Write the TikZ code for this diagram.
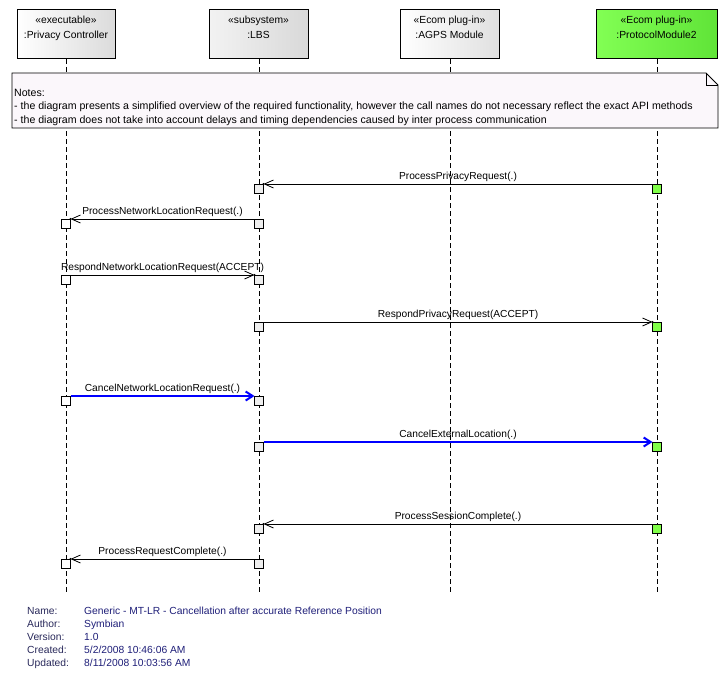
\documentclass[tikz,border=0pt]{standalone}
\usepackage{fontspec}
\setmainfont{Liberation Sans}
\usetikzlibrary{arrows.meta}
\definecolor{grn}{RGB}{128,255,72}
\definecolor{grnl}{RGB}{130,255,84}
\definecolor{grnd}{RGB}{96,228,56}
\definecolor{actgray}{RGB}{238,238,238}
\definecolor{notefill}{RGB}{251,247,251}
\definecolor{footlbl}{RGB}{40,40,90}
\definecolor{footval}{RGB}{30,30,120}
\definecolor{msgblue}{RGB}{0,0,255}
\begin{document}
\begin{tikzpicture}[x=1pt,y=-1pt,
  head/.style={draw, line width=1pt, minimum width=#1, minimum height=49pt, inner sep=0pt, outer sep=0pt},
  htxt/.style={font=\fontsize{10.3}{12}\selectfont, inner sep=0pt, anchor=base},
  act/.style={draw, line width=0.8pt, minimum size=9pt, inner sep=0pt, outer sep=0pt, anchor=north},
  lifeline/.style={line width=0.8pt, dash pattern=on 5pt off 3pt},
  msg/.style={line width=0.8pt, -{Straight Barb[length=9pt,width=8pt]}},
  bmsg/.style={draw=msgblue, line width=2pt, -{Straight Barb[length=7pt,width=9pt]}},
  lbl/.style={font=\fontsize{10.2}{12}\selectfont, inner sep=0pt, above=1.5pt},
  notetxt/.style={font=\fontsize{10.6}{12}\selectfont, inner sep=0pt, anchor=base west},
  footl/.style={font=\fontsize{10.3}{12}\selectfont, inner sep=0pt, anchor=base west, text=footlbl},
  footv/.style={font=\fontsize{10.3}{12}\selectfont, inner sep=0pt, anchor=base west, text=footval}
]
\useasboundingbox (0,0) rectangle (728,685);

% headers
\node[head=98, left color=white, right color=black!14] (pc) at (66,34.5) {};
\node[head=99, left color=black!5, right color=black!15] (lbs) at (258.5,34.5) {};
\node[head=99, left color=white, right color=black!12] (agps) at (449.5,34.5) {};
\node[head=121, left color=grnl, right color=grnd] (pm) at (656.5,34.5) {};
\node[htxt] (pcs) at (66,23.5) {«executable»};
\node[htxt] (pcn) at (66,39) {:Privacy Controller};
\node[htxt] (lbss) at (258.5,23.5) {«subsystem»};
\node[htxt] (lbsn) at (258.5,39) {:LBS};
\node[htxt] (agpss) at (449.5,23.5) {«Ecom plug-in»};
\node[htxt] (agpsn) at (449.5,39) {:AGPS Module};
\node[htxt] (pms) at (656.5,23.5) {«Ecom plug-in»};
\node[htxt] (pmn) at (656.5,39) {:ProtocolModule2};

% lifelines
\coordinate (pcE) at (66,593);
\coordinate (lbsE) at (259,593);
\coordinate (agpsE) at (450,593);
\coordinate (pmE) at (657,593);
\draw[lifeline] (66,59) -- (pcE);
\draw[lifeline] (259,59) -- (lbsE);
\draw[lifeline] (450,59) -- (agpsE);
\draw[lifeline] (657,59) -- (pmE);

% note
\draw[fill=notefill, line width=0.8pt] (12,73) -- (706,73) -- (718,85) -- (718,128) -- (12,128) -- cycle;
\draw[line width=0.6pt] (706,73) -- (706,85) -- (718,85);
\node[notetxt] (n0) at (14,96.5) {Notes:};
\node[notetxt] (n1) at (14,110) {- the diagram presents a simplified overview of the required functionality, however the call names do not necessary reflect the exact API methods};
\node[notetxt] (n2) at (14,123.5) {- the diagram does not take into account delays and timing dependencies caused by inter process communication};

% activation boxes
\node[act, fill=grn] (p1) at (657,184) {};
\node[act, fill=actgray] (l1) at (259,184) {};
\node[act, fill=actgray] (l2) at (259,219) {};
\node[act, fill=white] (c2) at (66,219) {};
\node[act, fill=white] (c3) at (66,275) {};
\node[act, fill=actgray] (l3) at (259,275) {};
\node[act, fill=actgray] (l4) at (259,322) {};
\node[act, fill=grn] (p4) at (657,322) {};
\node[act, fill=white] (c5) at (66,396) {};
\node[act, fill=actgray] (l5) at (259,396) {};
\node[act, fill=actgray] (l6) at (259,442) {};
\node[act, fill=grn] (p6) at (657,442) {};
\node[act, fill=grn] (p7) at (657,524) {};
\node[act, fill=actgray] (l7) at (259,524) {};
\node[act, fill=actgray] (l8) at (259,559) {};
\node[act, fill=white] (c8) at (66,559) {};

% messages
\draw[msg] (p1.north west) -- node[lbl] (t1) {ProcessPrivacyRequest(.)} (l1.north east);
\draw[msg] (l2.north west) -- node[lbl] (t2) {ProcessNetworkLocationRequest(.)} (c2.north east);
\draw[msg] (c3.north east) -- node[lbl] (t3) {RespondNetworkLocationRequest(ACCEPT)} (l3.north west);
\draw[msg] (l4.north east) -- node[lbl] (t4) {RespondPrivacyRequest(ACCEPT)} (p4.north west);
\draw[bmsg] (c5.north east) -- node[lbl] (t5) {CancelNetworkLocationRequest(.)} (l5.north west);
\draw[bmsg] (l6.north east) -- node[lbl] (t6) {CancelExternalLocation(.)} (p6.north west);
\draw[msg] (p7.north west) -- node[lbl] (t7) {ProcessSessionComplete(.)} (l7.north east);
\draw[msg] (l8.north west) -- node[lbl] (t8) {ProcessRequestComplete(.)} (c8.north east);
\fill (l1.north east) circle (1.1pt);
\fill (c2.north east) circle (1.1pt);
\fill (l3.north west) circle (1.1pt);
\fill (p4.north west) circle (1.1pt);
\fill (l7.north east) circle (1.1pt);
\fill (c8.north east) circle (1.1pt);

% footer
\node[footl] (f1) at (27,614.5) {Name:};
\node[footl] (f2) at (27,627.5) {Author:};
\node[footl] (f3) at (27,640.5) {Version:};
\node[footl] (f4) at (27,653.5) {Created:};
\node[footl] (f5) at (27,666.5) {Updated:};
\node[footv] (v1) at (84,614.5) {Generic - MT-LR - Cancellation after accurate Reference Position};
\node[footv] (v2) at (84,627.5) {Symbian};
\node[footv] (v3) at (84,640.5) {1.0};
\node[footv] (v4) at (84,653.5) {5/2/2008 10:46:06 AM};
\node[footv] (v5) at (84,666.5) {8/11/2008 10:03:56 AM};
\end{tikzpicture}
\end{document}
